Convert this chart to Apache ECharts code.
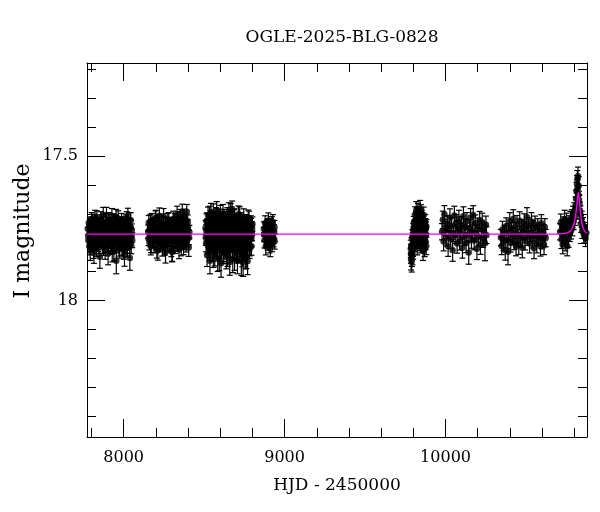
<!DOCTYPE html>
<html><head><meta charset="utf-8">
<script src="https://cdn.jsdelivr.net/npm/echarts@6/dist/echarts.min.js"></script>
<style>html,body{margin:0;padding:0;background:#fff}#c{width:600px;height:512px}</style>
</head><body><div id="c"></div>
<script>
var titleText = 'OGLE-2025-BLG-0828';
var xName = 'HJD - 2450000';
var yName = 'I magnitude';
// [HJD-2450000, I mag, error]
var season1 = [[7777,17.752,.022],[7780,17.791,.025],[7783,17.731,.020],[7786,17.812,.030],[7789,17.764,.022],[7792,17.826,.035],[7795,17.745,.024],[7798,17.783,.026],[7801,17.718,.022],[7804,17.801,.028],[7807,17.768,.021],[7810,17.739,.025],[7813,17.822,.032],[7816,17.757,.023],[7819,17.794,.027],[7822,17.712,.024],[7825,17.776,.022],[7828,17.748,.026],[7831,17.817,.031],[7834,17.769,.022],[7837,17.728,.024],[7840,17.802,.028],[7843,17.755,.021],[7846,17.786,.025],[7849,17.741,.023],[7852,17.848,.040],[7855,17.772,.022],[7858,17.719,.026],[7861,17.795,.027],[7864,17.761,.023],[7867,17.808,.029],[7870,17.735,.024],[7873,17.703,.025],[7876,17.788,.026],[7879,17.766,.022],[7882,17.744,.023],[7885,17.824,.033],[7888,17.779,.024],[7891,17.726,.025],[7894,17.758,.022],[7897,17.804,.030],[7900,17.749,.024],[7903,17.838,.038],[7906,17.771,.022],[7909,17.721,.025],[7912,17.792,.027],[7915,17.763,.023],[7918,17.811,.029],[7921,17.738,.024],[7924,17.785,.026],[7927,17.709,.027],[7930,17.799,.028],[7933,17.773,.022],[7936,17.752,.023],[7939,17.829,.034],[7942,17.759,.022],[7945,17.794,.027],[7948,17.731,.025],[7951,17.781,.025],[7954,17.862,.045],[7957,17.747,.023],[7960,17.806,.029],[7963,17.774,.022],[7966,17.716,.026],[7969,17.790,.027],[7972,17.757,.023],[7975,17.821,.032],[7978,17.742,.024],[7981,17.787,.025],[7984,17.768,.022],[7987,17.724,.025],[7990,17.813,.030],[7993,17.755,.023],[7996,17.797,.027],[7999,17.734,.024],[8002,17.778,.024],[8005,17.843,.038],[8008,17.762,.022],[8011,17.805,.029],[8014,17.729,.025],[8017,17.784,.025],[8020,17.751,.023],[8023,17.818,.031],[8026,17.707,.026],[8029,17.796,.027],[8032,17.766,.022],[8035,17.741,.024],[8038,17.853,.042],[8041,17.776,.023],[8044,17.722,.026],[8047,17.809,.029],[8050,17.758,.023],[8053,17.791,.026],
  [7779,17.776,.024],[7785,17.744,.023],[7791,17.803,.028],[7797,17.761,.022],[7803,17.727,.025],[7809,17.788,.026],[7815,17.835,.036],[7821,17.753,.023],[7827,17.795,.027],[7833,17.716,.026],[7839,17.772,.022],[7845,17.809,.029],[7851,17.738,.024],[7857,17.782,.025],[7863,17.729,.025],[7869,17.768,.022],[7875,17.814,.030],[7881,17.746,.023],[7887,17.791,.026],[7893,17.705,.027],[7899,17.779,.024],[7905,17.801,.028],[7911,17.743,.024],[7917,17.784,.025],[7923,17.756,.023],[7929,17.831,.035],[7935,17.725,.025],[7941,17.797,.027],[7947,17.765,.022],[7953,17.711,.026],[7959,17.788,.026],[7965,17.749,.023],[7971,17.816,.030],[7977,17.772,.022],[7983,17.737,.024],[7989,17.799,.027],[7995,17.763,.022],[8001,17.824,.033],[8007,17.743,.024],[8013,17.781,.025],[8019,17.719,.026],[8025,17.793,.027],[8031,17.757,.023],[8037,17.808,.029],[8043,17.746,.024],[8049,17.775,.024]];
var season2 = [[8152,17.762,.023],[8156,17.731,.025],[8160,17.798,.027],[8164,17.745,.022],[8168,17.812,.030],[8172,17.771,.023],[8176,17.724,.025],[8180,17.789,.026],[8184,17.756,.022],[8188,17.806,.029],[8192,17.738,.024],[8196,17.779,.023],[8200,17.714,.026],[8204,17.795,.027],[8208,17.761,.022],[8212,17.827,.033],[8216,17.749,.023],[8220,17.784,.025],[8224,17.727,.024],[8228,17.803,.028],[8232,17.768,.022],[8236,17.742,.024],[8240,17.815,.031],[8244,17.774,.022],[8248,17.709,.027],[8252,17.791,.026],[8256,17.753,.023],[8260,17.834,.036],[8264,17.766,.022],[8268,17.736,.024],[8272,17.799,.027],[8276,17.758,.023],[8280,17.721,.025],[8284,17.787,.025],[8288,17.772,.022],[8292,17.744,.024],[8296,17.818,.030],[8300,17.829,.035],[8304,17.762,.022],[8308,17.717,.026],[8312,17.793,.027],[8316,17.751,.023],[8320,17.808,.029],[8324,17.733,.024],[8328,17.778,.024],[8332,17.702,.028],[8336,17.786,.026],[8340,17.765,.022],[8344,17.823,.032],[8348,17.747,.023],[8352,17.712,.027],[8356,17.797,.027],[8360,17.769,.022],[8364,17.695,.028],[8368,17.739,.024],[8372,17.811,.030],[8376,17.757,.023],[8380,17.782,.025],[8384,17.726,.025],[8388,17.804,.028],[8392,17.693,.025],[8396,17.771,.023],[8400,17.745,.024],[8404,17.816,.031],[8408,17.763,.023],
  [8154,17.785,.025],[8162,17.752,.023],[8166,17.727,.025],[8170,17.806,.028],[8178,17.763,.022],[8186,17.738,.024],[8190,17.792,.026],[8198,17.716,.026],[8202,17.774,.023],[8206,17.821,.032],[8214,17.748,.023],[8222,17.707,.027],[8226,17.786,.025],[8230,17.756,.023],[8238,17.798,.027],[8246,17.733,.024],[8250,17.769,.022],[8254,17.813,.030],[8262,17.741,.024],[8266,17.782,.025],[8274,17.724,.025],[8282,17.804,.028],[8286,17.752,.023],[8290,17.776,.023],[8298,17.738,.024],[8302,17.832,.034],[8310,17.767,.022],[8318,17.725,.025],[8322,17.789,.026],[8326,17.745,.024],[8334,17.801,.028],[8338,17.718,.026],[8346,17.779,.024],[8350,17.758,.023],[8358,17.815,.030],[8362,17.736,.024],[8370,17.774,.023],[8374,17.711,.027],[8382,17.797,.027],[8386,17.748,.024],[8394,17.788,.026],[8398,17.729,.025],[8406,17.782,.025]];
var season3 = [[8509,17.748,.025],[8512,17.801,.030],[8515,17.726,.026],[8518,17.842,.040],[8521,17.769,.024],[8524,17.705,.028],[8527,17.783,.027],[8530,17.819,.033],[8533,17.741,.025],[8536,17.862,.045],[8539,17.757,.024],[8542,17.694,.030],[8545,17.796,.029],[8548,17.772,.024],[8551,17.733,.026],[8554,17.828,.036],[8557,17.704,.038],[8560,17.785,.027],[8563,17.751,.024],[8566,17.839,.041],[8569,17.719,.027],[8572,17.806,.030],[8575,17.764,.024],[8578,17.688,.030],[8581,17.792,.028],[8584,17.855,.044],[8587,17.737,.025],[8590,17.778,.025],[8593,17.712,.028],[8596,17.823,.034],[8599,17.760,.024],[8602,17.746,.025],[8605,17.871,.048],[8608,17.789,.027],[8611,17.727,.026],[8614,17.811,.031],[8617,17.698,.030],[8620,17.767,.024],[8623,17.834,.038],[8626,17.743,.025],[8629,17.799,.029],[8632,17.721,.027],[8635,17.776,.025],[8638,17.848,.042],[8641,17.754,.024],[8644,17.708,.029],[8647,17.791,.028],[8650,17.816,.032],[8653,17.735,.025],[8656,17.772,.024],[8659,17.866,.046],[8662,17.749,.024],[8665,17.696,.031],[8668,17.803,.029],[8671,17.761,.024],[8674,17.684,.028],[8677,17.826,.035],[8680,17.739,.025],[8683,17.787,.027],[8686,17.714,.028],[8689,17.852,.043],[8692,17.768,.024],[8695,17.745,.025],[8698,17.809,.030],[8701,17.731,.026],[8704,17.794,.028],[8707,17.861,.046],[8710,17.756,.024],[8713,17.702,.029],[8716,17.779,.025],[8719,17.832,.037],[8722,17.748,.025],[8725,17.816,.031],[8728,17.723,.027],[8731,17.858,.055],[8734,17.771,.024],[8737,17.843,.040],[8740,17.737,.025],[8743,17.797,.029],[8746,17.711,.028],[8749,17.784,.026],[8752,17.829,.036],[8755,17.759,.024],[8758,17.848,.042],[8761,17.729,.026],[8764,17.805,.030],[8767,17.766,.024],[8770,17.863,.047],[8773,17.742,.025],[8776,17.792,.028],[8779,17.718,.027],[8782,17.821,.033],[8785,17.753,.024],[8788,17.784,.026],[8791,17.741,.025],[8794,17.812,.031],[8797,17.769,.024],[8800,17.736,.025],
  [8510,17.782,.027],[8514,17.761,.024],[8517,17.724,.027],[8522,17.808,.030],[8526,17.745,.025],[8529,17.771,.024],[8534,17.703,.029],[8538,17.826,.035],[8541,17.753,.024],[8546,17.787,.027],[8550,17.719,.027],[8553,17.764,.024],[8558,17.844,.041],[8562,17.732,.026],[8565,17.798,.029],[8570,17.776,.025],[8574,17.708,.029],[8577,17.815,.032],[8582,17.747,.025],[8586,17.789,.027],[8589,17.726,.026],[8594,17.852,.044],[8598,17.772,.024],[8601,17.701,.030],[8606,17.804,.030],[8610,17.758,.024],[8613,17.739,.025],[8618,17.829,.036],[8622,17.766,.024],[8625,17.713,.028],[8630,17.785,.027],[8634,17.751,.024],[8637,17.806,.030],[8642,17.728,.026],[8646,17.842,.040],[8649,17.763,.024],[8654,17.692,.030],[8658,17.794,.028],[8661,17.741,.025],[8666,17.819,.033],[8670,17.778,.025],[8673,17.722,.027],[8678,17.858,.045],[8682,17.756,.024],[8685,17.797,.029],[8690,17.711,.028],[8694,17.783,.026],[8697,17.745,.025],[8702,17.833,.037],[8706,17.769,.024],[8709,17.726,.026],[8714,17.811,.031],[8718,17.762,.024],[8721,17.705,.029],[8726,17.792,.028],[8730,17.749,.025],[8733,17.826,.035],[8738,17.773,.024],[8742,17.868,.048],[8745,17.754,.024],[8750,17.806,.030],[8754,17.731,.026],[8757,17.782,.026],[8762,17.847,.042],[8766,17.744,.025],[8769,17.799,.029],[8774,17.715,.028],[8778,17.776,.025],[8781,17.758,.024],[8786,17.814,.031],[8790,17.733,.026],[8793,17.787,.027],[8798,17.752,.024]];
var season4 = [[8871,17.752,.024],[8875,17.791,.027],[8879,17.733,.026],[8883,17.812,.030],[8887,17.766,.023],[8891,17.745,.024],[8895,17.798,.028],[8899,17.724,.027],[8903,17.783,.026],[8907,17.758,.023],[8911,17.817,.031],[8915,17.741,.025],[8919,17.776,.024],[8923,17.802,.029],[8927,17.729,.026],[8931,17.788,.026],[8935,17.761,.023],[8938,17.795,.027],[8873,17.771,.024],[8881,17.756,.024],[8889,17.785,.026],[8897,17.742,.025],[8905,17.806,.029],[8913,17.768,.024],[8921,17.735,.025],[8929,17.779,.025],[8937,17.747,.024]];
var season5 = [[9784,17.821,.030],[9786,17.856,.038],[9788,17.838,.033],[9790,17.861,.040],[9792,17.809,.028],[9794,17.842,.034],[9796,17.792,.027],[9798,17.826,.031],[9800,17.771,.025],[9802,17.803,.028],[9804,17.748,.024],[9806,17.785,.026],[9808,17.726,.025],[9810,17.762,.024],[9812,17.703,.027],[9814,17.794,.027],[9816,17.739,.024],[9818,17.688,.030],[9820,17.776,.025],[9822,17.717,.026],[9824,17.812,.030],[9826,17.754,.024],[9828,17.692,.028],[9830,17.781,.026],[9832,17.731,.025],[9834,17.767,.024],[9836,17.709,.027],[9838,17.799,.028],[9840,17.744,.024],[9842,17.683,.029],[9844,17.773,.025],[9846,17.725,.025],[9848,17.806,.029],[9850,17.758,.024],[9852,17.714,.026],[9854,17.788,.026],[9856,17.736,.024],[9858,17.769,.024],[9860,17.828,.033],[9862,17.751,.024],[9864,17.704,.027],[9866,17.779,.025],[9868,17.742,.024],[9870,17.817,.031],[9872,17.761,.023],[9874,17.728,.025],[9876,17.796,.027],[9878,17.752,.024],[9880,17.811,.030],
  [9785,17.838,.032],[9788,17.812,.029],[9791,17.846,.036],[9794,17.781,.026],[9797,17.817,.030],[9800,17.757,.024],[9803,17.734,.025],[9806,17.801,.028],[9809,17.746,.024],[9812,17.771,.024],[9815,17.719,.026],[9818,17.787,.026],[9821,17.752,.024],[9824,17.706,.027],[9827,17.776,.025],[9830,17.738,.024],[9833,17.793,.027],[9836,17.761,.024],[9839,17.721,.025],[9842,17.782,.026],[9845,17.749,.024],[9848,17.697,.028],[9851,17.772,.024],[9854,17.731,.025],[9857,17.803,.028],[9860,17.757,.024],[9863,17.783,.026],[9866,17.727,.025],[9869,17.764,.024],[9872,17.798,.027],[9875,17.741,.024],[9878,17.775,.024],[9881,17.744,.024]];
var season6 = [[9978,17.762,.028],[9983,17.721,.030],[9988,17.796,.032],[9993,17.702,.030],[9998,17.748,.027],[10004,17.781,.030],[10010,17.735,.028],[10016,17.812,.035],[10021,17.757,.028],[10027,17.714,.031],[10032,17.789,.031],[10038,17.742,.028],[10044,17.826,.038],[10049,17.768,.028],[10055,17.706,.032],[10060,17.774,.029],[10066,17.731,.028],[10072,17.803,.033],[10077,17.752,.028],[10083,17.719,.031],[10088,17.794,.031],[10094,17.761,.028],[10100,17.738,.029],[10105,17.817,.036],[10111,17.709,.033],[10116,17.779,.030],[10122,17.746,.028],[10128,17.801,.033],[10133,17.726,.030],[10139,17.771,.029],[10144,17.834,.040],[10150,17.749,.028],[10156,17.713,.031],[10161,17.788,.031],[10167,17.757,.028],[10172,17.704,.032],[10178,17.792,.032],[10184,17.733,.029],[10189,17.767,.028],[10195,17.821,.037],[10200,17.744,.029],[10206,17.779,.030],[10212,17.722,.030],[10217,17.806,.034],[10223,17.754,.028],[10228,17.729,.031],[10234,17.785,.031],[10240,17.763,.028],[10245,17.802,.060],[10251,17.738,.030],[10254,17.774,.029]];
var season7 = [[10344,17.782,.028],[10349,17.811,.030],[10354,17.754,.028],[10360,17.796,.031],[10366,17.768,.028],[10371,17.826,.034],[10377,17.743,.029],[10382,17.789,.030],[10388,17.831,.045],[10393,17.762,.028],[10399,17.727,.031],[10405,17.801,.031],[10410,17.749,.028],[10416,17.776,.029],[10421,17.718,.032],[10427,17.793,.031],[10433,17.757,.028],[10438,17.812,.033],[10444,17.736,.030],[10449,17.771,.028],[10455,17.806,.034],[10461,17.724,.031],[10466,17.785,.030],[10472,17.748,.028],[10477,17.817,.035],[10483,17.763,.028],[10489,17.731,.031],[10494,17.794,.031],[10500,17.756,.028],[10506,17.712,.033],[10511,17.779,.030],[10517,17.742,.028],[10522,17.803,.032],[10528,17.768,.028],[10534,17.727,.031],[10539,17.788,.030],[10545,17.751,.028],[10550,17.819,.036],[10556,17.737,.029],[10562,17.774,.029],[10567,17.802,.033],[10573,17.745,.028],[10578,17.781,.030],[10584,17.759,.028],[10590,17.812,.034],[10595,17.733,.030],[10601,17.791,.030],[10606,17.764,.028],[10612,17.808,.033],[10617,17.746,.029],[10622,17.784,.030]];
var season8 = [[10712,17.762,.028],[10716,17.731,.030],[10720,17.789,.031],[10724,17.748,.028],[10728,17.806,.032],[10732,17.741,.030],[10736,17.779,.029],[10740,17.719,.031],[10744,17.797,.031],[10748,17.755,.028],[10752,17.728,.030],[10756,17.812,.033],[10760,17.744,.029],[10764,17.786,.030],[10768,17.736,.029],[10772,17.768,.028],[10776,17.722,.030],[10780,17.759,.028],[10784,17.716,.030],[10788,17.748,.028],[10792,17.703,.029],[10796,17.727,.028],[10800,17.691,.029],[10804,17.712,.028],[10808,17.672,.030],[10811,17.648,.029],[10814,17.622,.030],[10817,17.598,.030],[10819,17.582,.031],[10821,17.611,.030],[10823,17.571,.032],[10825,17.634,.030],[10827,17.603,.031],[10829,17.652,.030],[10832,17.667,.030],[10835,17.688,.029],[10838,17.702,.029],[10842,17.735,.029],[10846,17.719,.028],[10850,17.756,.029],[10855,17.741,.028],[10860,17.772,.029],[10865,17.758,.028],[10870,17.784,.029],[10875,17.766,.028]];
// model light curve
var modelT   = [7772, 10700, 10740, 10760, 10775, 10785, 10795, 10803, 10810, 10815, 10819, 10822, 10825, 10828, 10831, 10835, 10840, 10847, 10855, 10865, 10879];
var modelMag = [17.770, 17.770, 17.768, 17.765, 17.760, 17.753, 17.740, 17.722, 17.698, 17.675, 17.652, 17.636, 17.626, 17.634, 17.650, 17.676, 17.706, 17.733, 17.750, 17.761, 17.767];
var xMin = 7772, xMax = 10879, yMin = 17.18, yMax = 18.47;

var points = season1.concat(season2, season3, season4, season5, season6, season7, season8);
var model = modelT.map(function (t, i) { return [t, modelMag[i]]; });

var FONT = 'DejaVu Serif';
var chart = echarts.init(document.getElementById('c'), null, {renderer: 'canvas'});
function axisCommon(showLabel) {
  return {
    axisLine: {show: true, onZero: false, lineStyle: {color: '#000', width: 1}},
    axisTick: {show: true, inside: true, length: 18, lineStyle: {color: '#000', width: 1}},
    minorTick: {show: true, splitNumber: 5, length: 9, lineStyle: {color: '#000', width: 1}},
    splitLine: {show: false},
    axisLabel: {show: showLabel, color: '#000', fontFamily: FONT, fontSize: 16,
      showMinLabel: false, showMaxLabel: false,
      formatter: function (v) { return String(v); }}
  };
}
var xb = Object.assign({type: 'value', position: 'bottom', min: xMin, max: xMax, splitNumber: 3,
  name: xName, nameLocation: 'middle', nameGap: 40,
  nameTextStyle: {fontFamily: FONT, fontSize: 17, color: '#000'}}, axisCommon(true));
xb.axisLabel.margin = 13;
var xt = Object.assign({type: 'value', position: 'top', min: xMin, max: xMax, splitNumber: 3}, axisCommon(false));
var yl = Object.assign({type: 'value', position: 'left', inverse: true, min: yMin, max: yMax, splitNumber: 3}, axisCommon(true));
yl.axisLabel.margin = 9;
var yr = Object.assign({type: 'value', position: 'right', inverse: true, min: yMin, max: yMax, splitNumber: 3}, axisCommon(false));

chart.setOption({
  animation: false,
  backgroundColor: '#fff',
  title: {text: titleText, left: 337, top: 24, textAlign: 'center',
    textStyle: {fontFamily: FONT, fontSize: 17, fontWeight: 'normal', color: '#000'}},
  graphic: [{type: 'text', x: 23, y: 231, rotation: Math.PI / 2,
    style: {text: yName, fontFamily: FONT, fontSize: 22, fill: '#000', align: 'center', verticalAlign: 'middle'}}],
  grid: {left: 87, top: 63, right: 13, bottom: 75, containLabel: false},
  xAxis: [xb, xt],
  yAxis: [yl, yr],
  series: [
    {type: 'custom', xAxisIndex: 0, yAxisIndex: 0, data: points, clip: true, z: 2,
      encode: {x: 0, y: 1},
      renderItem: function (params, api) {
        var t = api.value(0), m = api.value(1), e = api.value(2);
        var a = api.coord([t, m - e]), b = api.coord([t, m + e]);
        var hw = 3, st = {stroke: '#000', lineWidth: 1.2};
        return {type: 'group', children: [
          {type: 'line', shape: {x1: a[0], y1: a[1], x2: b[0], y2: b[1]}, style: st},
          {type: 'line', shape: {x1: a[0] - hw, y1: a[1], x2: a[0] + hw, y2: a[1]}, style: st},
          {type: 'line', shape: {x1: b[0] - hw, y1: b[1], x2: b[0] + hw, y2: b[1]}, style: st}
        ]};
      }},
    {type: 'scatter', xAxisIndex: 0, yAxisIndex: 0, data: points, symbol: 'circle', symbolSize: 6.5,
      itemStyle: {color: '#000'}, z: 3, clip: true},
    {type: 'line', xAxisIndex: 0, yAxisIndex: 0, data: model, showSymbol: false, symbol: 'none',
      lineStyle: {color: '#ff00ff', width: 1.3}, z: 4, clip: true}
  ]
});
</script></body></html>
